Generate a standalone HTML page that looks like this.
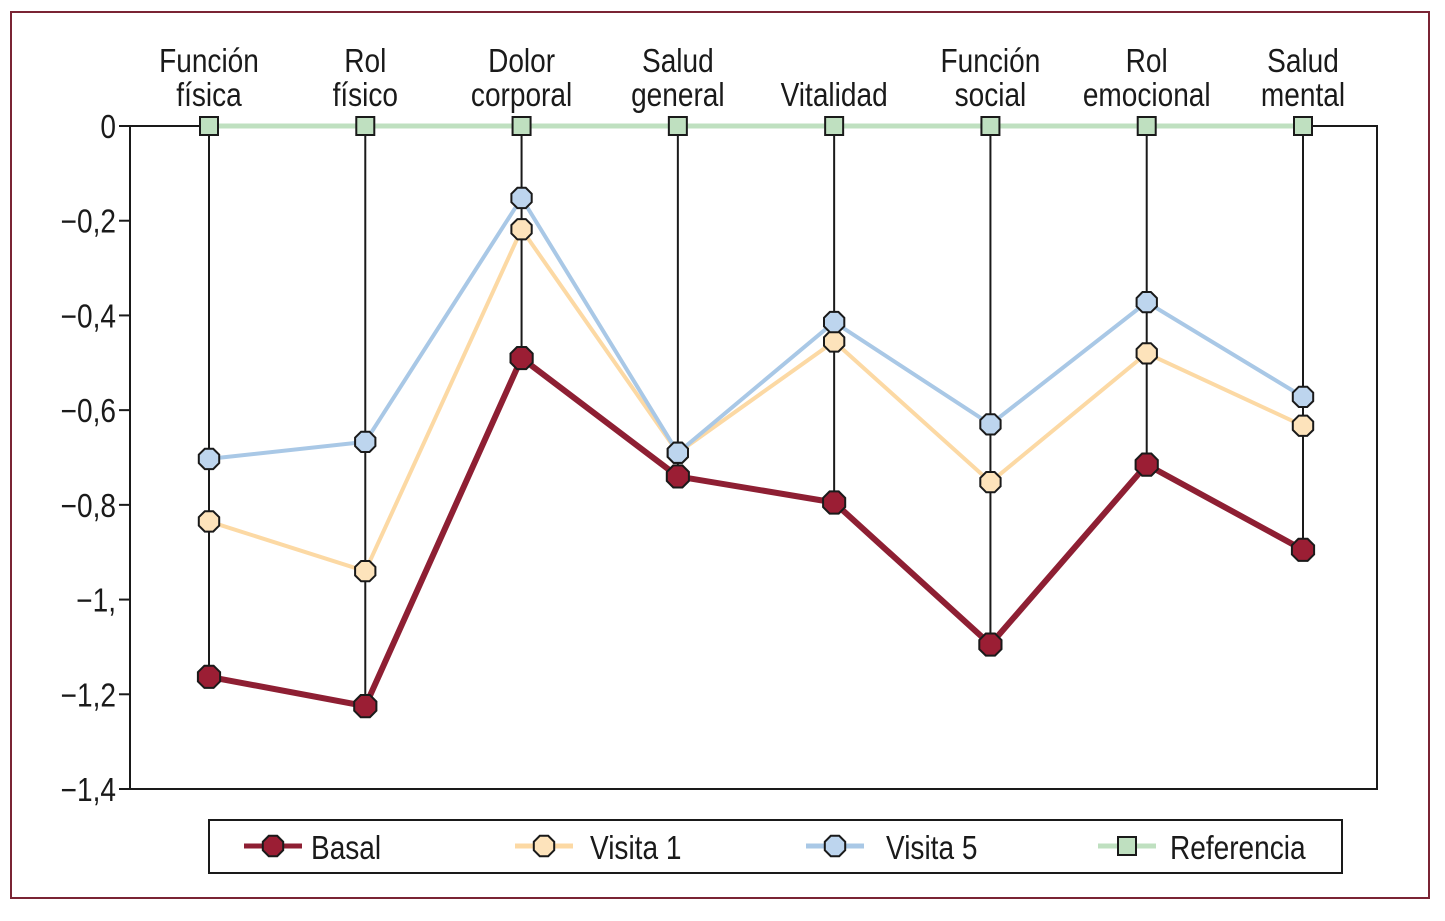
<!DOCTYPE html>
<html><head><meta charset="utf-8"><style>
html,body{margin:0;padding:0;background:#fff;}
svg text{font-family:"Liberation Sans Narrow","Liberation Sans",sans-serif;fill:#1a1a1a;}
</style></head><body>
<svg id="chart" width="1445" height="916" viewBox="0 0 1445 916" xmlns="http://www.w3.org/2000/svg">
<rect x="11" y="12" width="1418" height="886" fill="none" stroke="#7a2434" stroke-width="2"/>
<g id="g"></g>
</svg>
<script>
const categories=[["Función","física"],["Rol","físico"],["Dolor","corporal"],["Salud","general"],["","Vitalidad"],["Función","social"],["Rol","emocional"],["Salud","mental"]];
const basal=[-1.163,-1.225,-0.49,-0.74,-0.795,-1.095,-0.715,-0.895];
const visita1=[-0.835,-0.94,-0.218,-0.69,-0.455,-0.752,-0.48,-0.633];
const visita5=[-0.703,-0.667,-0.152,-0.69,-0.414,-0.63,-0.372,-0.572];
const referencia=[0,0,0,0,0,0,0,0];
const yTicks=[0,-0.2,-0.4,-0.6,-0.8,-1,-1.2,-1.4];
const yTickLabels=["0","\u22120,2","\u22120,4","\u22120,6","\u22120,8","\u22121,","\u22121,2","\u22121,4"];
const legendLabels=["Basal","Visita 1","Visita 5","Referencia"];

const NS="http://www.w3.org/2000/svg";
const g=document.getElementById('g');
const L=130,R=1377,T=126,B=789;
const y=v=>T+(0-v)/1.4*(B-T);
const x=i=>209+i*(1303-209)/7;
function el(t,a,p){const e=document.createElementNS(NS,t);for(const k in a)e.setAttribute(k,a[k]);(p||g).appendChild(e);return e;}
function txt(px,py,anchor,s){const e=el('text',{x:0,y:0,'text-anchor':anchor,'font-size':33,transform:`translate(${px},${py}) scale(0.85,1)`});e.textContent=s;return e;}
function oct(cx,cy,r,fill){let p=[];for(let k=0;k<8;k++){const a=Math.PI/8+k*Math.PI/4;p.push((cx+r*Math.cos(a)).toFixed(1)+","+(cy+r*Math.sin(a)).toFixed(1));}
 return el('polygon',{points:p.join(' '),fill:fill,stroke:'#1a1a1a','stroke-width':2});}

const fr=el('path',{d:`M${L} ${T}V${B}H${R}V${T}H${L}`,fill:'none',stroke:'#1a1a1a','stroke-width':2});

yTicks.forEach((t,i)=>{
 const tk=el('line',{x1:119,x2:L,y1:y(t),y2:y(t),stroke:'#1a1a1a','stroke-width':2});
 
 const tx=txt(116,y(t)+12,'end',yTickLabels[i]);
 
});
categories.forEach((c,i)=>{
 const t1=txt(x(i),72,'middle',c[0]);
 
 const t2=txt(x(i),106,'middle',c[1]);
 
 const mn=Math.min(basal[i],visita1[i],visita5[i]);
 const dl=el('line',{x1:x(i),x2:x(i),y1:y(0),y2:y(mn),stroke:'#1a1a1a','stroke-width':2});
 
});
const series=[[referencia,'#bfe0c0','#bfe0c0',5,'sq'],[visita1,'#fcd9a4','#fde3bb',4,'o'],[visita5,'#a9c8e6','#bdd5ee',4,'o'],[basal,'#8e1f33','#9b1e34',6,'o']];
const names=['referencia','visita-1','visita-5','basal'];
series.forEach((s,si)=>{
 const ln=el('polyline',{points:s[0].map((v,i)=>x(i)+','+y(v)).join(' '),fill:'none',stroke:s[1],'stroke-width':s[3]});
 
 s[0].forEach((v,i)=>{
  let m;
  if(s[4]==='sq')m=el('rect',{x:x(i)-9,y:y(v)-9,width:18,height:18,fill:s[2],stroke:'#1a1a1a','stroke-width':2});
  else m=oct(x(i),y(v),si===3?12:11,s[2]);
  
 });
});
const lb=el('rect',{x:209,y:820,width:1133,height:53,fill:'none',stroke:'#1a1a1a','stroke-width':2});

const lx=[244,515,806,1098],tx=[311,590,886,1170];
const lcol=[['#8e1f33','#9b1e34'],['#fcd9a4','#fde3bb'],['#a9c8e6','#bdd5ee'],['#bfe0c0','#bfe0c0']];
legendLabels.forEach((n,i)=>{
 const l=el('line',{x1:lx[i],x2:lx[i]+58,y1:846,y2:846,stroke:lcol[i][0],'stroke-width':5});
 
 let m;
 if(i===3)m=el('rect',{x:lx[i]+20,y:837,width:18,height:18,fill:lcol[i][1],stroke:'#1a1a1a','stroke-width':2});
 else m=oct(lx[i]+29,846,11,lcol[i][1]);
 
 const t=txt(tx[i],859,'start',n);
 
});
</script>
</body></html>
